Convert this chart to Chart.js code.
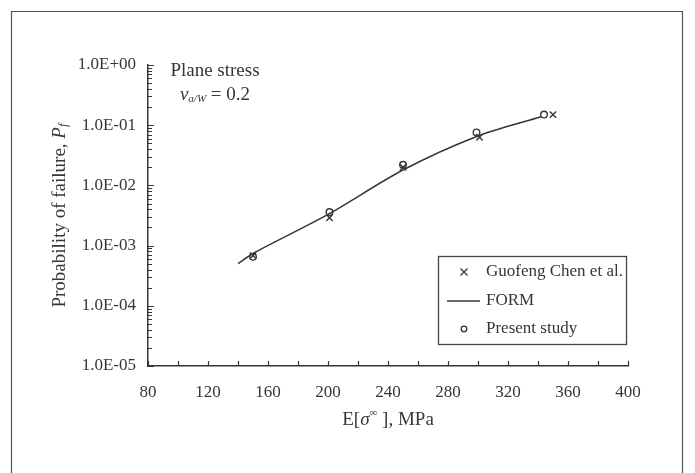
<!DOCTYPE html>
<html>
<head>
<meta charset="utf-8">
<script src="https://cdn.jsdelivr.net/npm/chart.js@4/dist/chart.umd.min.js"></script>
<style>
  body { margin: 0; background: #fff; }
  #wrap { width: 695px; height: 473px; position: relative; }
</style>
</head>
<body>
<div id="wrap"><canvas id="pfChart"></canvas></div>
<script>
// data
const guofengX = [150, 201, 250, 301, 350];
const guofengPf = [6.8e-4, 2.9e-3, 2.0e-2, 6.3e-2, 1.5e-1];

const presentX = [150, 201, 250, 299, 344];
const presentPf = [6.5e-4, 3.6e-3, 2.2e-2, 7.6e-2, 1.5e-1];

const formX = [140, 150, 200, 250, 300, 342];
const formPf = [5.0e-4, 7.4e-4, 3.3e-3, 1.8e-2, 6.6e-2, 1.38e-1];

const xTicks = [80, 120, 160, 200, 240, 280, 320, 360, 400];
const yDecades = [1e-5, 1e-4, 1e-3, 1e-2, 1e-1, 1];

const legendLabels = ['Guofeng Chen et al.', 'FORM', 'Present study'];

const ink = '#363636';
const serif = '"Liberation Serif", "Times New Roman", serif';

function toPoints(xs, ys) {
  return xs.map((x, i) => ({ x: x, y: ys[i] }));
}

function sciLabel(v) {
  const e = Math.round(Math.log10(v));
  const sign = e < 0 ? '-' : '+';
  const n = Math.abs(e);
  return '1.0E' + sign + (n < 10 ? '0' + n : n);
}

// draw a row of text pieces with their own fonts / offsets
function drawRuns(ctx, runs, x, y, align) {
  let total = 0;
  runs.forEach(r => { ctx.font = r.font; total += ctx.measureText(r.text).width; });
  let cx = align === 'center' ? x - total / 2 : x;
  ctx.textAlign = 'left';
  ctx.textBaseline = 'middle';
  runs.forEach(r => {
    ctx.font = r.font;
    ctx.fillText(r.text, cx, y + (r.dy || 0));
    cx += ctx.measureText(r.text).width;
  });
}

const decorPlugin = {
  id: 'decor',
  beforeDraw(chart) {
    const ctx = chart.ctx;
    ctx.save();
    ctx.strokeStyle = '#555';
    ctx.lineWidth = 1.2;
    ctx.beginPath();
    ctx.moveTo(11.5, 480);
    ctx.lineTo(11.5, 11.5);
    ctx.lineTo(682.5, 11.5);
    ctx.lineTo(682.5, 480);
    ctx.stroke();
    ctx.restore();
  },
  afterDraw(chart) {
    const ctx = chart.ctx;
    const xs = chart.scales.x;
    const ys = chart.scales.y;
    const area = chart.chartArea;
    ctx.save();
    ctx.strokeStyle = ink;
    ctx.fillStyle = ink;
    ctx.lineWidth = 1.2;

    // inward tick marks
    ctx.beginPath();
    xs.ticks.forEach(t => {
      const px = Math.round(xs.getPixelForValue(t.value)) + 0.5;
      ctx.moveTo(px, area.bottom);
      ctx.lineTo(px, area.bottom - 5);
    });
    const lo = Math.round(Math.log10(ys.min));
    const hi = Math.round(Math.log10(ys.max));
    for (let e = lo; e <= hi; e++) {
      for (let k = 1; k <= 9; k++) {
        const v = k * Math.pow(10, e);
        if (v > ys.max * 1.0001) break;
        const py = Math.round(ys.getPixelForValue(v)) + 0.5;
        ctx.moveTo(area.left, py);
        ctx.lineTo(area.left + (k === 1 ? 6 : 4), py);
      }
    }
    ctx.stroke();

    // axis titles
    drawRuns(ctx, [
      { text: 'E[', font: '19px ' + serif },
      { text: 'σ', font: 'italic 19px ' + serif },
      { text: '∞', font: '11px ' + serif, dy: -7 },
      { text: ' ], MPa', font: '19px ' + serif }
    ], (area.left + area.right) / 2, 420, 'center');

    ctx.save();
    ctx.translate(60, (area.top + area.bottom) / 2);
    ctx.rotate(-Math.PI / 2);
    drawRuns(ctx, [
      { text: 'Probability of failure, ', font: '19px ' + serif },
      { text: 'P', font: 'italic 19px ' + serif },
      { text: 'f', font: 'italic 13px ' + serif, dy: 4 }
    ], 0, 0, 'center');
    ctx.restore();

    // annotation
    drawRuns(ctx, [{ text: 'Plane stress', font: '19px ' + serif }], 215, 71, 'center');
    drawRuns(ctx, [
      { text: 'v', font: 'italic 19px ' + serif },
      { text: 'a/W', font: 'italic 11px ' + serif, dy: 4 },
      { text: ' = 0.2', font: '19px ' + serif }
    ], 215, 95, 'center');

    // legend box
    const bx = 438.5, by = 256.5, bw = 188, bh = 88;
    ctx.lineWidth = 1.3;
    ctx.strokeStyle = '#444';
    ctx.strokeRect(bx, by, bw, bh);
    ctx.strokeStyle = ink;
    const rowY = [272, 301, 329];
    const mx = 464;
    // cross
    ctx.lineWidth = 1.3;
    ctx.beginPath();
    ctx.moveTo(mx - 3.5, rowY[0] - 3.5); ctx.lineTo(mx + 3.5, rowY[0] + 3.5);
    ctx.moveTo(mx - 3.5, rowY[0] + 3.5); ctx.lineTo(mx + 3.5, rowY[0] - 3.5);
    ctx.stroke();
    // line
    ctx.beginPath();
    ctx.moveTo(447, rowY[1]); ctx.lineTo(480, rowY[1]);
    ctx.stroke();
    // circle
    ctx.beginPath();
    ctx.arc(mx, rowY[2], 2.8, 0, Math.PI * 2);
    ctx.stroke();
    legendLabels.forEach((lab, i) => {
      drawRuns(ctx, [{ text: lab, font: '17px ' + serif }], 486, rowY[i], 'left');
    });
    ctx.restore();
  }
};

const chart = new Chart(document.getElementById('pfChart'), {
  type: 'scatter',
  data: {
    datasets: [
      {
        label: legendLabels[1],
        data: toPoints(formX, formPf),
        showLine: true,
        borderColor: ink,
        borderWidth: 1.5,
        pointRadius: 0,
        tension: 0.3,
        order: 3
      },
      {
        label: legendLabels[0],
        data: toPoints(guofengX, guofengPf),
        pointStyle: 'crossRot',
        pointRadius: 4.5,
        borderColor: ink,
        borderWidth: 1.4,
        backgroundColor: ink,
        order: 2
      },
      {
        label: legendLabels[2],
        data: toPoints(presentX, presentPf),
        pointStyle: 'circle',
        pointRadius: 3.3,
        borderColor: ink,
        borderWidth: 1.4,
        backgroundColor: 'rgba(0,0,0,0)',
        order: 1
      }
    ]
  },
  options: {
    responsive: true,
    maintainAspectRatio: false,
    animation: false,
    layout: { padding: { left: 0, right: 67, top: 65, bottom: 0 } },
    plugins: {
      legend: { display: false },
      tooltip: { enabled: false }
    },
    scales: {
      x: {
        type: 'linear',
        min: 80,
        max: 400,
        afterFit: s => { s.height = 107; },
        afterBuildTicks: s => {
          const t = [];
          for (let v = s.min; v <= s.max; v += 20) t.push({ value: v });
          s.ticks = t;
        },
        ticks: {
          autoSkip: false,
          maxRotation: 0,
          padding: 16,
          color: ink,
          font: { family: serif, size: 17 },
          callback: v => xTicks.includes(v) ? String(v) : ''
        },
        grid: { display: false, drawTicks: false },
        border: { display: true, color: ink, width: 1.5 }
      },
      y: {
        type: 'logarithmic',
        min: 1e-5,
        max: 1,
        afterFit: s => { s.width = 148; },
        afterBuildTicks: s => { s.ticks = yDecades.map(v => ({ value: v })); },
        ticks: {
          autoSkip: false,
          padding: 12,
          color: ink,
          font: { family: serif, size: 17 },
          callback: v => sciLabel(v)
        },
        grid: { display: false, drawTicks: false },
        border: { display: true, color: ink, width: 1.5 }
      }
    }
  },
  plugins: [decorPlugin]
});
</script>
</body>
</html>
